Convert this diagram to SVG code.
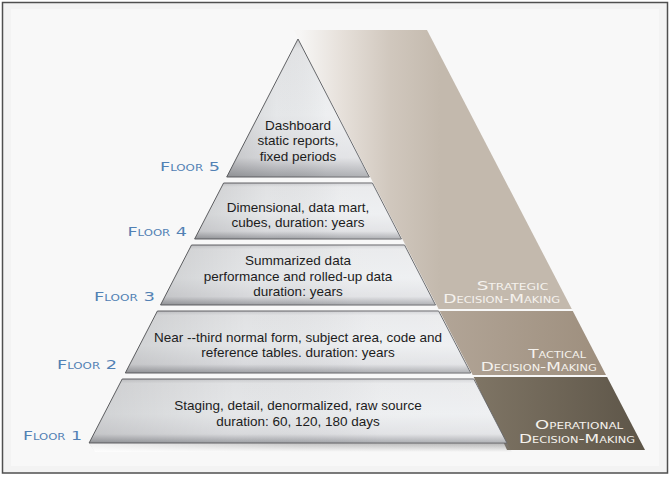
<svg xmlns="http://www.w3.org/2000/svg" width="671" height="477" viewBox="0 0 671 477">
<style>
.floor{stroke:#626366;stroke-width:1;fill:url(#floorFill)}
.shade{fill:url(#floorSide);stroke:none}
.body{font-family:"Liberation Sans",Arial,sans-serif;font-size:13.5px;fill:#1c1c1c;text-anchor:middle}
.flabel{font-family:"DejaVu Sans","Liberation Sans",sans-serif;font-size:12px;font-variant:small-caps;fill:#5281b4}
.blabel{font-family:"DejaVu Sans","Liberation Sans",sans-serif;font-size:12px;font-variant:small-caps;fill:#f5f2ed}
</style>
<defs>
<linearGradient id="floorFill" x1="0" y1="0" x2="0" y2="1">
<stop offset="0" stop-color="#cfd0d3"/>
<stop offset="0.07" stop-color="#e8e9eb"/>
<stop offset="0.55" stop-color="#eceef0"/>
<stop offset="0.86" stop-color="#dfe0e3"/>
<stop offset="0.93" stop-color="#c0c1c5"/>
<stop offset="1" stop-color="#a2a4a8"/>
</linearGradient>
<linearGradient id="floorSide" x1="0" y1="0" x2="1" y2="0">
<stop offset="0" stop-color="#000" stop-opacity="0.12"/>
<stop offset="0.35" stop-color="#000" stop-opacity="0.03"/>
<stop offset="0.7" stop-color="#fff" stop-opacity="0.08"/>
<stop offset="1" stop-color="#fff" stop-opacity="0.15"/>
</linearGradient>
<linearGradient id="strat" gradientUnits="userSpaceOnUse" x1="300" y1="0" x2="440" y2="0">
<stop offset="0" stop-color="#f7f6f5"/>
<stop offset="0.3" stop-color="#e6e0da"/>
<stop offset="0.65" stop-color="#d0c7bd"/>
<stop offset="1" stop-color="#c3b9ad"/>
</linearGradient>
<linearGradient id="tact" x1="0" y1="0" x2="1" y2="0">
<stop offset="0" stop-color="#b2a597"/>
<stop offset="1" stop-color="#9d8e7d"/>
</linearGradient>
<linearGradient id="oper" x1="0" y1="0" x2="1" y2="0">
<stop offset="0" stop-color="#7f7565"/>
<stop offset="1" stop-color="#5d5548"/>
</linearGradient>
<linearGradient id="shadow" x1="0" y1="0" x2="0" y2="1">
<stop offset="0" stop-color="#7a7a7a" stop-opacity="0.55"/>
<stop offset="1" stop-color="#7a7a7a" stop-opacity="0"/>
</linearGradient>
<linearGradient id="shadowH" x1="0" y1="0" x2="1" y2="0">
<stop offset="0" stop-color="#fff" stop-opacity="0.8"/>
<stop offset="0.5" stop-color="#fff" stop-opacity="0.2"/>
<stop offset="1" stop-color="#fff" stop-opacity="0"/>
</linearGradient>
</defs>

<rect x="0" y="0" width="671" height="477" fill="#ffffff"/>
<rect x="2.5" y="2.5" width="665" height="470.5" fill="#f3f3f3" stroke="#4f4f4f" stroke-width="1.5"/>
<rect x="11" y="9" width="648" height="457" fill="#f8f8f8"/>

<g id="bands">
<g id="strategic">
<polygon points="294,30 427,30 571.8,309 438.6,309" fill="url(#strat)"/>
<text class="blabel" x="476.7" y="290" textLength="71.6" lengthAdjust="spacingAndGlyphs">Strategic</text>
<text class="blabel" x="443.3" y="302.7" textLength="116.7" lengthAdjust="spacingAndGlyphs">Decision-Making</text>
</g>
<g id="tactical">
<polygon points="439.6,311 572.8,311 606,375 472.7,375" fill="url(#tact)"/>
<text class="blabel" x="528.3" y="358.3" textLength="57.7" lengthAdjust="spacingAndGlyphs">Tactical</text>
<text class="blabel" x="480.7" y="370.7" textLength="116" lengthAdjust="spacingAndGlyphs">Decision-Making</text>
</g>
<g id="operational">
<polygon points="473.7,377 607.1,377 645,450 507,450" fill="url(#oper)"/>
<text class="blabel" x="535" y="429.3" textLength="88.3" lengthAdjust="spacingAndGlyphs">Operational</text>
<text class="blabel" x="519" y="442.7" textLength="116" lengthAdjust="spacingAndGlyphs">Decision-Making</text>
</g>
</g>

<g id="pyramid-shadow">
<polygon points="89,443 507,443 512,452 95,452" fill="url(#shadow)"/>
<polygon points="89,443 507,443 512,452 95,452" fill="url(#shadowH)"/>
</g>

<g id="floor5">
<polygon class="floor" points="298,39 369.3,177 226.7,177"/>
<polygon class="shade" points="298,39 369.3,177 226.7,177"/>
<text class="body" x="298" y="129.5">Dashboard</text>
<text class="body" x="298" y="145">static reports,</text>
<text class="body" x="298" y="161">fixed periods</text>
<text class="flabel" x="160" y="170.5" textLength="60" lengthAdjust="spacingAndGlyphs">Floor 5</text>
</g>

<g id="floor4">
<polygon class="floor" points="223.6,183 372.4,183 401.4,239 194.6,239"/>
<polygon class="shade" points="223.6,183 372.4,183 401.4,239 194.6,239"/>
<text class="body" x="298" y="212">Dimensional, data mart,</text>
<text class="body" x="298" y="227">cubes, duration: years</text>
<text class="flabel" x="127.5" y="235.5" textLength="59.5" lengthAdjust="spacingAndGlyphs">Floor 4</text>
</g>

<g id="floor3">
<polygon class="floor" points="191.5,245 404.5,245 435.5,305 160.5,305"/>
<polygon class="shade" points="191.5,245 404.5,245 435.5,305 160.5,305"/>
<text class="body" x="298" y="265">Summarized data</text>
<text class="body" x="298" y="280.5">performance and rolled-up data</text>
<text class="body" x="298" y="296">duration: years</text>
<text class="flabel" x="94" y="301" textLength="61" lengthAdjust="spacingAndGlyphs">Floor 3</text>
</g>

<g id="floor2">
<polygon class="floor" points="157.4,311 438.6,311 470.7,373 125.3,373"/>
<polygon class="shade" points="157.4,311 438.6,311 470.7,373 125.3,373"/>
<text class="body" x="298" y="341.5">Near --third normal form, subject area, code and</text>
<text class="body" x="298" y="356.5">reference tables. duration: years</text>
<text class="flabel" x="57" y="369" textLength="60" lengthAdjust="spacingAndGlyphs">Floor 2</text>
</g>

<g id="floor1">
<polygon class="floor" points="122.2,379 473.8,379 506.9,443 89.1,443"/>
<polygon class="shade" points="122.2,379 473.8,379 506.9,443 89.1,443"/>
<text class="body" x="298" y="410">Staging, detail, denormalized, raw source</text>
<text class="body" x="298" y="426">duration: 60, 120, 180 days</text>
<text class="flabel" x="23" y="439.5" textLength="59" lengthAdjust="spacingAndGlyphs">Floor 1</text>
</g>
</svg>
